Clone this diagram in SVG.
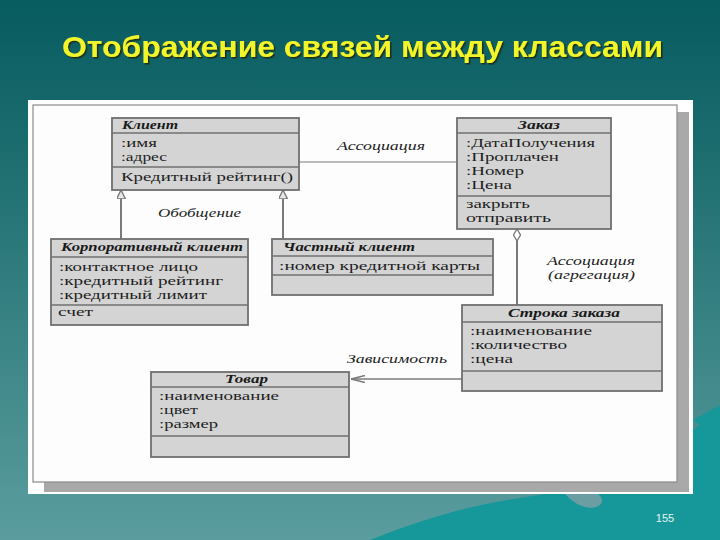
<svg xmlns="http://www.w3.org/2000/svg" width="720" height="540" viewBox="0 0 720 540">
<defs>
<linearGradient id="bg" x1="0" y1="0" x2="0" y2="1">
<stop offset="0" stop-color="#075c60"/>
<stop offset="0.25" stop-color="#1a6b6d"/>
<stop offset="1" stop-color="#5b9d9e"/>
</linearGradient>
<filter id="sh" x="-5%" y="-30%" width="110%" height="160%">
<feDropShadow dx="1.5" dy="1.5" stdDeviation="0.6" flood-color="#1d2a10" flood-opacity="0.9"/>
</filter>
<marker id="gen" viewBox="0 0 10 10" refX="10" refY="5" markerWidth="9" markerHeight="9" orient="auto" markerUnits="userSpaceOnUse">
<path d="M0,0 L10,5 L0,10 Z" fill="#e8e8e8" stroke="#777" stroke-width="1.5"/>
</marker>
<marker id="agg" viewBox="0 0 12 8" refX="0" refY="4" markerWidth="12" markerHeight="8" orient="auto" markerUnits="userSpaceOnUse">
<path d="M0,4 L6,0.5 L12,4 L6,7.5 Z" fill="#fff" stroke="#777" stroke-width="1.3"/>
</marker>
<marker id="dep" viewBox="0 0 14 8" refX="14" refY="4" markerWidth="14" markerHeight="8" orient="auto" markerUnits="userSpaceOnUse">
<path d="M0,0.5 L14,4 L0,7.5" fill="none" stroke="#777" stroke-width="1.5"/>
</marker>
</defs>
<style>
.box{fill:#d4d4d4;stroke:#6f6f6f;stroke-width:1.8}
.sep{stroke:#707070;stroke-width:1.3}
.hd{font-family:"Liberation Serif",serif;font-style:italic;font-weight:bold;font-size:13px;fill:#1a1a1a}
.at{font-family:"Liberation Serif",serif;font-size:13px;fill:#1e1e1e}
.lb{font-family:"Liberation Serif",serif;font-style:italic;font-size:13px;fill:#222}
.ln{stroke:#7a7a7a;fill:none}
</style>
<rect width="720" height="540" fill="url(#bg)"/>
<path d="M370,540 C420,520 470,505 520,498 C560,492 590,485 620,470 C650,455 680,440 700,425 L720,418 L720,540 Z" fill="#16979a"/>
<path d="M693,420 L720,405 L720,440 Z" fill="#16979a"/>
<path d="M565,494 C575,505 590,512 600,505 C605,500 600,496 598,494 Z" fill="#6b9ea3"/>
<text x="62" y="57" textLength="601" lengthAdjust="spacingAndGlyphs" font-family="Liberation Sans,Arial,sans-serif" font-weight="bold" font-size="30" fill="#f2f52a" filter="url(#sh)">Отображение связей между классами</text>
<rect x="28" y="100" width="665" height="394" fill="#fff"/>
<rect x="44" y="112" width="645" height="380" fill="#a9a9a9"/>
<rect x="33" y="105" width="644" height="377" fill="#fdfdfd" stroke="#8a8a8a" stroke-width="1.2"/>
<g id="connectors">
<line class="ln" x1="299" y1="162" x2="457" y2="162" stroke-width="1.2"/>
<line class="ln" x1="121" y1="239" x2="121" y2="190" stroke-width="2" marker-end="url(#gen)"/>
<line class="ln" x1="283" y1="239" x2="283" y2="190" stroke-width="2" marker-end="url(#gen)"/>
<line class="ln" x1="517" y1="229" x2="517" y2="305" stroke-width="2" marker-start="url(#agg)"/>
<line class="ln" x1="462" y1="379" x2="351" y2="379" stroke-width="1.3" marker-end="url(#dep)"/>
<text class="lb" x="337" y="150" textLength="88" lengthAdjust="spacingAndGlyphs">Ассоциация</text>
<text class="lb" x="158" y="217" textLength="83" lengthAdjust="spacingAndGlyphs">Обобщение</text>
<text class="lb" x="547" y="265" textLength="88" lengthAdjust="spacingAndGlyphs">Ассоциация</text>
<text class="lb" x="548" y="279" textLength="87" lengthAdjust="spacingAndGlyphs">(агрегация)</text>
<text class="lb" x="347" y="363" textLength="100" lengthAdjust="spacingAndGlyphs">Зависимость</text>
</g>
<g id="klient">
<rect class="box" x="112" y="118" width="187" height="72"/>
<line class="sep" x1="112" y1="133" x2="299" y2="133"/>
<line class="sep" x1="112" y1="167" x2="299" y2="167"/>
<text class="hd" x="122" y="129" textLength="56" lengthAdjust="spacingAndGlyphs">Клиент</text>
<text class="at" x="121" y="147" textLength="36" lengthAdjust="spacingAndGlyphs">:имя</text>
<text class="at" x="121" y="161" textLength="46" lengthAdjust="spacingAndGlyphs">:адрес</text>
<text class="at" x="121" y="181" textLength="172" lengthAdjust="spacingAndGlyphs">Кредитный рейтинг()</text>
</g>
<g id="zakaz">
<rect class="box" x="457" y="118" width="154" height="111"/>
<line class="sep" x1="457" y1="133" x2="611" y2="133"/>
<line class="sep" x1="457" y1="196" x2="611" y2="196"/>
<text class="hd" x="518" y="129" textLength="42" lengthAdjust="spacingAndGlyphs">Заказ</text>
<text class="at" x="466" y="147" textLength="129" lengthAdjust="spacingAndGlyphs">:ДатаПолучения</text>
<text class="at" x="466" y="161" textLength="93" lengthAdjust="spacingAndGlyphs">:Проплачен</text>
<text class="at" x="466" y="175" textLength="58" lengthAdjust="spacingAndGlyphs">:Номер</text>
<text class="at" x="466" y="189" textLength="46" lengthAdjust="spacingAndGlyphs">:Цена</text>
<text class="at" x="466" y="208" textLength="64" lengthAdjust="spacingAndGlyphs">закрыть</text>
<text class="at" x="466" y="222" textLength="85" lengthAdjust="spacingAndGlyphs">отправить</text>
</g>
<g id="korp">
<rect class="box" x="51" y="239" width="197" height="86"/>
<line class="sep" x1="51" y1="257" x2="248" y2="257"/>
<line class="sep" x1="51" y1="305" x2="248" y2="305"/>
<text class="hd" x="61" y="251" textLength="182" lengthAdjust="spacingAndGlyphs">Корпоративный клиент</text>
<text class="at" x="59" y="271" textLength="139" lengthAdjust="spacingAndGlyphs">:контактное лицо</text>
<text class="at" x="59" y="285" textLength="164" lengthAdjust="spacingAndGlyphs">:кредитный рейтинг</text>
<text class="at" x="59" y="299" textLength="148" lengthAdjust="spacingAndGlyphs">:кредитный лимит</text>
<text class="at" x="58" y="316" textLength="35" lengthAdjust="spacingAndGlyphs">счет</text>
</g>
<g id="chastny">
<rect class="box" x="272" y="239" width="221" height="56"/>
<line class="sep" x1="272" y1="256" x2="493" y2="256"/>
<line class="sep" x1="272" y1="275" x2="493" y2="275"/>
<text class="hd" x="283" y="251" textLength="132" lengthAdjust="spacingAndGlyphs">Частный клиент</text>
<text class="at" x="279" y="270" textLength="201" lengthAdjust="spacingAndGlyphs">:номер кредитной карты</text>
</g>
<g id="stroka">
<rect class="box" x="462" y="305" width="200" height="86"/>
<line class="sep" x1="462" y1="322" x2="662" y2="322"/>
<line class="sep" x1="462" y1="371" x2="662" y2="371"/>
<text class="hd" x="508" y="317" textLength="112" lengthAdjust="spacingAndGlyphs">Строка заказа</text>
<text class="at" x="470" y="335" textLength="122" lengthAdjust="spacingAndGlyphs">:наименование</text>
<text class="at" x="470" y="349" textLength="97" lengthAdjust="spacingAndGlyphs">:количество</text>
<text class="at" x="470" y="363" textLength="43" lengthAdjust="spacingAndGlyphs">:цена</text>
</g>
<g id="tovar">
<rect class="box" x="151" y="372" width="198" height="85"/>
<line class="sep" x1="151" y1="387" x2="349" y2="387"/>
<line class="sep" x1="151" y1="436" x2="349" y2="436"/>
<text class="hd" x="225" y="383" textLength="43" lengthAdjust="spacingAndGlyphs">Товар</text>
<text class="at" x="159" y="400" textLength="120" lengthAdjust="spacingAndGlyphs">:наименование</text>
<text class="at" x="159" y="414" textLength="39" lengthAdjust="spacingAndGlyphs">:цвет</text>
<text class="at" x="159" y="428" textLength="59" lengthAdjust="spacingAndGlyphs">:размер</text>
</g>
<text x="665" y="522" text-anchor="middle" font-family="Liberation Sans,Arial,sans-serif" font-size="11" fill="#e8f4f4">155</text>
</svg>
